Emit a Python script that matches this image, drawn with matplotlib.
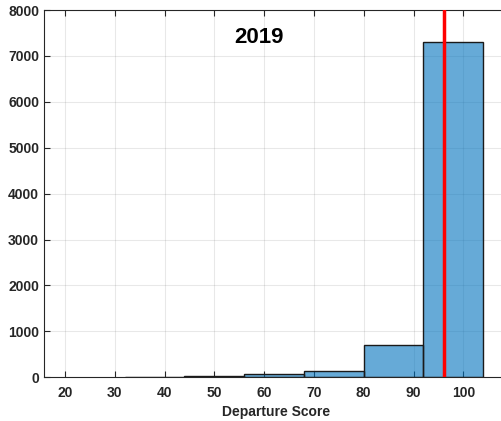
import numpy as np
import matplotlib
matplotlib.use("Agg")
import matplotlib.pyplot as plt

# Departure score histogram, 2019
bin_edges = [32, 44, 56, 68, 80, 92, 104]
bin_counts = [8, 22, 65, 148, 703, 7310]
median_score = 96.2
year_label = "2019"

x_ticks = [20, 30, 40, 50, 60, 70, 80, 90, 100]
y_ticks = [0, 1000, 2000, 3000, 4000, 5000, 6000, 7000, 8000]

plt.rcParams['font.family'] = ['Liberation Sans', 'DejaVu Sans']
plt.rcParams['font.weight'] = 'bold'

fig = plt.figure(figsize=(5.01, 4.21), dpi=100)
ax = fig.add_axes([0.0878, 0.1038, 0.925, 0.8724])

dark = (0.15, 0.15, 0.15)

ax.hist(bin_edges[:-1], bins=bin_edges, weights=bin_counts,
        color='#0072BD', alpha=0.6, edgecolor='none', zorder=2)
ax.hist(bin_edges[:-1], bins=bin_edges, weights=bin_counts,
        histtype='bar', fill=False, edgecolor='#1a1a1a', linewidth=1.0, zorder=3)
ax.axvline(median_score, color='red', linewidth=2.5, zorder=4)

ax.set_xlim(15.8, 108.85)
ax.set_ylim(0, 8000)
ax.set_xticks(x_ticks)
ax.set_yticks(y_ticks)
ax.grid(True, color=dark, alpha=0.1, linewidth=0.8)
ax.set_axisbelow(True)

ax.tick_params(direction='in', length=4, width=0.8, colors=dark,
               labelsize=10, top=True, right=True)
ax.tick_params(axis='x', pad=6)
for lbl in ax.get_xticklabels() + ax.get_yticklabels():
    lbl.set_fontweight('bold')
for s in ax.spines.values():
    s.set_color(dark)
    s.set_linewidth(0.8)

ax.set_xlabel("Departure Score", fontsize=10, fontweight='bold', color=dark, labelpad=4)
ax.text(59, 7400, year_label, ha='center', va='center',
        fontsize=16, fontweight='bold', color='black')

fig.savefig("out.png", dpi=100)
